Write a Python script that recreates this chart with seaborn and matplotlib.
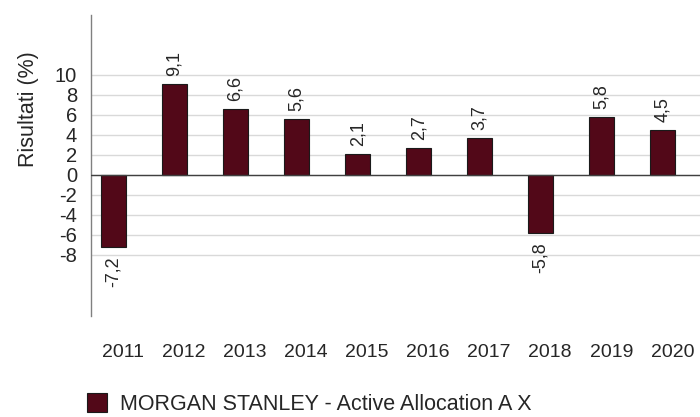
import numpy as np
import pandas as pd
import matplotlib
matplotlib.use('Agg')
import matplotlib.pyplot as plt
import matplotlib.transforms as mtransforms
import seaborn as sns

# Data
years = ['2011', '2012', '2013', '2014', '2015', '2016', '2017', '2018', '2019', '2020']
returns = [-7.2, 9.1, 6.6, 5.6, 2.1, 2.7, 3.7, -5.8, 5.8, 4.5]
series_name = 'MORGAN STANLEY - Active Allocation A X'
y_ticks = [10, 8, 6, 4, 2, 0, -2, -4, -6, -8]

bar_color = '#520818'

df = pd.DataFrame({'Anno': years, 'Risultato': returns})

sns.set_style('white')
plt.rcParams['font.family'] = ['Liberation Sans', 'DejaVu Sans']
plt.rcParams['font.size'] = 13

fig = plt.figure(figsize=(7, 4.17), dpi=100)
ax = fig.add_axes([91 / 700, 1 - 316 / 417, 1 - 91 / 700, (316 - 15) / 417])

sns.barplot(data=df, x='Anno', y='Risultato', color=bar_color, saturation=1,
            width=0.41, edgecolor='#1a1a1a', linewidth=0.8, ax=ax, zorder=3,
            label=series_name)

ax.set_xlim(-0.37, 9.61)
ax.set_ylim(-14.1, 16)
ax.set_yticks(y_ticks)
ax.set_yticklabels([str(t) for t in y_ticks])
ax.yaxis.grid(True, color='#d9d9d9', linewidth=1, zorder=0)
ax.axhline(0, color='#404040', linewidth=1, zorder=4)

for s in ['top', 'right', 'bottom']:
    ax.spines[s].set_visible(False)
ax.spines['left'].set_color('#808080')
ax.spines['left'].set_linewidth(1)

ax.tick_params(axis='y', length=4, width=1, color='#808080', pad=6, labelsize=14.5)
ax.tick_params(axis='x', length=0, pad=20, labelsize=14)

# x labels sit slightly to the right of the bar centres
shift = mtransforms.ScaledTranslation(9.5 / 100, 0, fig.dpi_scale_trans)
for lab in ax.get_xticklabels():
    lab.set_transform(lab.get_transform() + shift)

ax.set_xlabel('')
ax.set_ylabel('Risultati (%)', fontsize=15.5)
ax.yaxis.set_label_coords(-0.086, 0.688)

# value labels, rotated, with comma decimal
for i, v in enumerate(returns):
    txt = f'{v:.1f}'.replace('.', ',')
    if v >= 0:
        ax.annotate(txt, (i, v), xytext=(0, 6), textcoords='offset points',
                    rotation=90, ha='center', va='bottom', fontsize=13)
    else:
        ax.annotate(txt, (i, v), xytext=(0, -7), textcoords='offset points',
                    rotation=90, ha='center', va='top', fontsize=13)

if ax.legend_:
    ax.legend_.remove()
handles, labels = ax.get_legend_handles_labels()
fig.legend(handles[:1], [series_name], loc='lower left',
           bbox_to_anchor=(87 / 700, 2 / 417), frameon=False, borderpad=0,
           borderaxespad=0, handlelength=0.95, handleheight=0.95,
           handletextpad=0.6, fontsize=15.5)

fig.savefig('out.png', dpi=100)
